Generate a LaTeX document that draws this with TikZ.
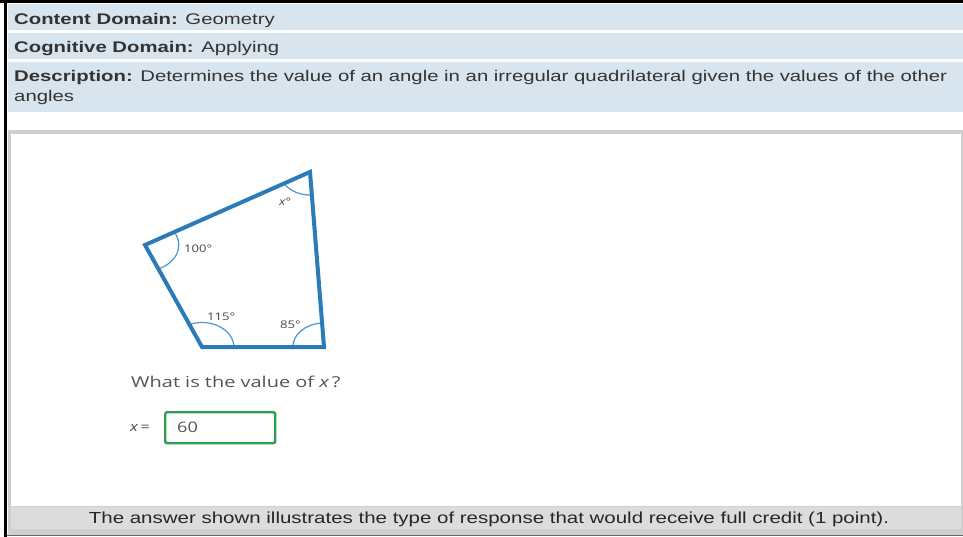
\documentclass[tikz,border=0pt]{standalone}
\usepackage{fontspec}
\setmainfont{Liberation Sans}
\newfontfamily\hdfont[FakeStretch=1.32]{Liberation Sans}
\newfontfamily\qfont[FakeStretch=1.33]{Open Sans}
\newfontfamily\smallqfont[FakeStretch=1.25]{Open Sans}
\newfontfamily\footfont[FakeStretch=1.28]{Liberation Sans}
\definecolor{band}{HTML}{D9E5EE}
\definecolor{hdtext}{HTML}{333333}
\definecolor{quadc}{HTML}{2B7BB9}
\definecolor{arcc}{HTML}{5196CA}
\definecolor{qtext}{HTML}{555555}
\definecolor{boxg}{HTML}{2E9D4E}
\definecolor{frameg}{HTML}{CFCFCF}
\definecolor{footg}{HTML}{DCDCDC}
\tikzset{
  hdr/.style={anchor=base west, inner sep=0pt, text=hdtext, font=\hdfont\fontsize{15.4}{18}\selectfont},
  qlabel/.style={anchor=base west, inner sep=0pt, text=qtext, font=\qfont\fontsize{15}{18}\selectfont},
  anglab/.style={anchor=base west, inner sep=0pt, text=qtext!85!black, font=\smallqfont\fontsize{10.5}{12}\selectfont},
  arcline/.style={draw=arcc, line width=1.2pt},
  edge/.style={draw=quadc, line width=4pt, line join=miter}
}
\begin{document}
\begin{tikzpicture}[x=1pt,y=-1pt]
\useasboundingbox (0,0) rectangle (963,537);
\fill[white] (0,0) rectangle (963,537);
% header bands
\fill[band] (7.5,4) rectangle (963,30.5);
\fill[band] (7.5,33) rectangle (963,59.5);
\fill[band] (7.5,62) rectangle (963,112);
\node[hdr] (h1) at (14,24.5) {\textbf{Content Domain:} Geometry};
\node[hdr] (h2) at (14,53) {\textbf{Cognitive Domain:} Applying};
\node[hdr] (h3) at (14,82) {\textbf{Description:} Determines the value of an angle in an irregular quadrilateral given the values of the other};
\node[hdr] (h4) at (14,102) {angles};
% item frame
\fill[frameg] (8,130.5) rectangle (963,535);
\fill[white] (10.5,134) rectangle (961,506);
\fill[footg] (10.5,507) rectangle (961,529);
\draw[gray!80!black, line width=1.2pt] (5,535.5) -- (963,535.5);
% black page borders
\draw[black, line width=2.6pt] (0,1.6) -- (963,1.6);
\draw[black, line width=2.4pt] (5.5,0) -- (5.5,537);
% quadrilateral
\coordinate (A) at (310,172);
\coordinate (B) at (145,245);
\coordinate (C) at (202,347);
\coordinate (D) at (324,347);
\begin{scope}[shift={(B)}, xscale=1.3]
  \draw[arcline] (-29.9:26) arc[start angle=-29.9, end angle=66.8, radius=26];
\end{scope}
\begin{scope}[shift={(C)}, xscale=1.3]
  \draw[arcline] (-113.2:24.5) arc[start angle=-113.2, end angle=0, radius=24.5];
\end{scope}
\begin{scope}[shift={(D)}, xscale=1.3]
  \draw[arcline] (180:24) arc[start angle=180, end angle=266.5, radius=24];
\end{scope}
\begin{scope}[shift={(A)}, xscale=1.3]
  \draw[arcline] (86.5:23) arc[start angle=86.5, end angle=150.1, radius=23];
\end{scope}
\draw[edge] (A) -- (B) -- (C) -- (D) -- cycle;
\node[anglab] (l100) at (184,252) {100°};
\node[anglab] (l115) at (207,320) {115°};
\node[anglab] (l85) at (280,328) {85°};
\node[anglab] (lx) at (279,206) {\itshape x\upshape°};
% question
\node[qlabel] (q) at (131,387) {What is the value of \textit{x}\,?};
\node[anglab, font=\smallqfont\fontsize{13}{15}\selectfont] (xeq) at (130,431) {\textit{x}\,=};
\node[draw=boxg, line width=2.4pt, rounded corners=2pt, minimum width=110pt, minimum height=31pt, inner sep=0pt, anchor=north west] (ans) at (164,411) {};
\node[qlabel, font=\smallqfont\fontsize{14.5}{16}\selectfont] (v60) at (177,432) {60};
% footer
\node[anchor=base, inner sep=0pt, text=black!85, font=\footfont\fontsize{16}{18}\selectfont] (foot) at (489,523.5) {The answer shown illustrates the type of response that would receive full credit (1 point).};
\end{tikzpicture}
\end{document}
